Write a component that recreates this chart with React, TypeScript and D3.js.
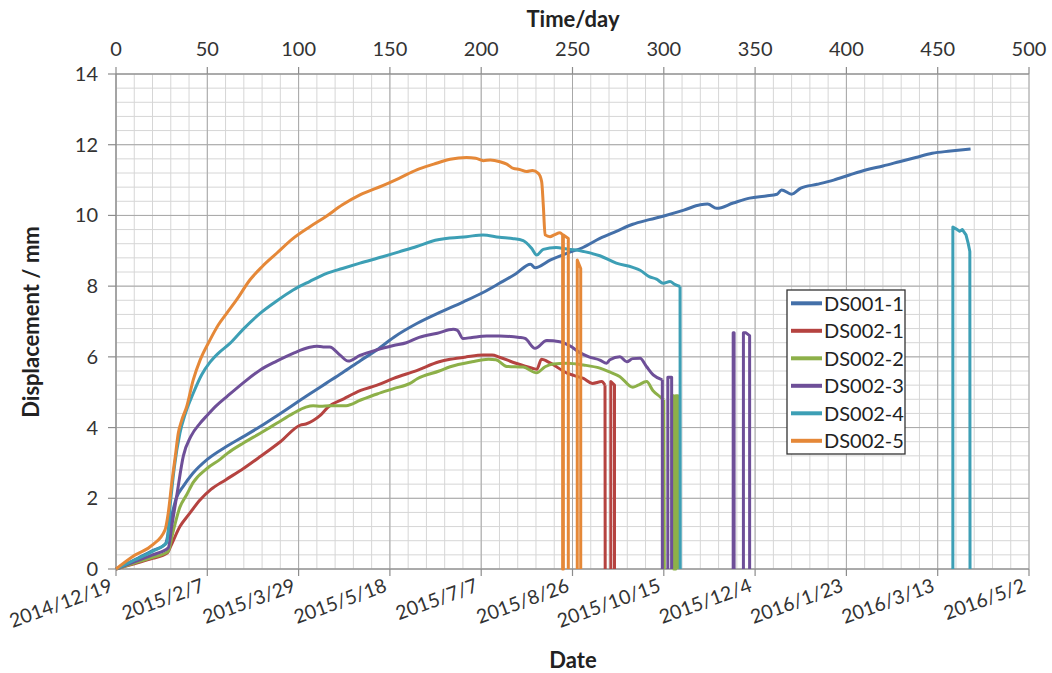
import React from "react";
import * as d3 from "d3";

type Pt = [number, number | null];

const seriesNames = ["DS001-1", "DS002-1", "DS002-2", "DS002-3", "DS002-4", "DS002-5"];
const seriesColors = ["#4470a9", "#b54340", "#8db049", "#6e4f98", "#3d9fb5", "#e58838"];

const ds001_1: Pt[] = [[0,0],[10,0.25],[20,0.52],[27,0.7],[30,1.4],[33,2.0],[37,2.35],[42,2.7],[50,3.1],[60,3.45],[70,3.75],[79,4.03],[88,4.33],[97,4.64],[106,4.95],[115,5.25],[124,5.55],[134,5.9],[143,6.2],[152,6.55],[165,6.95],[177,7.25],[190,7.55],[201,7.82],[210,8.08],[219,8.35],[227,8.62],[229.5,8.52],[238,8.74],[247,8.93],[256,9.1],[265,9.35],[274,9.55],[283,9.75],[292,9.88],[301,10.0],[311,10.15],[320,10.3],[324,10.32],[329,10.2],[338,10.35],[347,10.49],[356,10.55],[362,10.6],[364.5,10.72],[370,10.6],[375,10.77],[384,10.88],[393,11.0],[402,11.15],[411,11.29],[420,11.4],[429,11.52],[438,11.64],[447,11.76],[457,11.82],[468,11.88]];

const ds002_1: Pt[] = [[0,0],[10,0.15],[20,0.3],[28,0.45],[30,0.65],[35,1.2],[40,1.55],[46,1.95],[52,2.25],[60,2.52],[70,2.85],[79,3.18],[90,3.6],[101,4.07],[104,4.1],[108,4.2],[112,4.35],[116,4.57],[125,4.82],[134,5.05],[143,5.2],[152,5.39],[165,5.62],[177,5.86],[183,5.93],[192,6.0],[201,6.05],[206,6.05],[210,5.99],[219,5.82],[228,5.68],[230.5,5.65],[233,5.93],[238,5.82],[247,5.54],[251,5.47],[256,5.39],[261,5.25],[266,5.3],[267.8,5.2],[267.9,0],[269,null],[271,0],[271,5.3],[273,5.2],[273,0]];

const ds002_2: Pt[] = [[0,0],[10,0.17],[20,0.33],[28.6,0.5],[31,1.0],[35,1.75],[38.7,2.1],[42.3,2.45],[50,2.85],[57,3.1],[61,3.27],[70,3.57],[79,3.84],[88,4.12],[97,4.4],[104,4.58],[108,4.62],[112,4.6],[117,4.62],[126,4.62],[134,4.78],[143,4.95],[152,5.1],[161,5.25],[165,5.38],[177,5.6],[183,5.72],[195,5.86],[204,5.93],[208,5.92],[214,5.73],[223,5.71],[230.4,5.55],[235,5.72],[239.5,5.8],[247,5.82],[256,5.77],[265,5.68],[270,5.58],[276,5.44],[283,5.14],[286,5.2],[290.6,5.3],[294,5.05],[298,4.87],[300,4.78],[300.3,0],[301,null],[304.5,0],[304.5,4.9],[305.5,4.9],[305.5,0],[306.5,0],[306.5,4.9],[307.8,4.9],[307.8,0]];

const ds002_3: Pt[] = [[0,0],[10,0.2],[20,0.4],[28.6,0.6],[30.5,1.2],[33.2,2.05],[36.9,3.2],[41,3.75],[46,4.12],[50,4.35],[55,4.62],[60.6,4.87],[70,5.28],[79,5.63],[88,5.88],[97,6.1],[106,6.27],[110,6.3],[113.5,6.28],[117,6.28],[122.7,6.05],[127.2,5.88],[133.6,6.04],[143,6.2],[152,6.32],[159,6.4],[166,6.55],[176,6.67],[184.7,6.78],[187,6.75],[190,6.52],[195,6.55],[203,6.59],[210,6.59],[221,6.55],[224,6.52],[229.5,6.24],[235.9,6.46],[243,6.43],[249,6.3],[254,6.12],[259,6.0],[265,5.91],[268.7,5.82],[270.5,5.92],[276,6.0],[279.7,5.86],[283,5.95],[287,5.96],[290.6,5.72],[294.2,5.49],[299.2,5.35],[299.2,0],[300,null],[302.2,0],[302.2,5.42],[304.3,5.42],[304.3,0],[305,null],[338,0],[338,6.68],[338.5,6.68],[338.5,0],[339,null],[343.6,0],[343.6,6.68],[345,6.68],[347,6.6],[347,0]];

const ds002_4: Pt[] = [[0,0],[10,0.25],[20,0.5],[27.8,0.75],[29.6,1.76],[32,2.9],[35,3.84],[38,4.4],[42.3,4.97],[47,5.5],[51.5,5.85],[56,6.1],[62.4,6.38],[70,6.8],[78.9,7.23],[88,7.58],[97,7.89],[106,8.13],[115.4,8.36],[124,8.5],[133.6,8.65],[146,8.83],[155,8.97],[164.7,9.12],[173,9.27],[183,9.36],[192,9.4],[201,9.45],[210,9.38],[217,9.35],[223,9.29],[227.6,9.07],[230.4,8.88],[234,9.04],[241,9.09],[247,9.05],[252,9.02],[256,8.98],[265,8.86],[274,8.65],[283,8.53],[287,8.45],[292,8.27],[296,8.2],[299.7,8.08],[303.4,8.13],[306,8.05],[308.9,7.99],[309,0],[310,null],[458.3,0],[458.3,9.67],[460,9.62],[462,9.55],[463.5,9.6],[465.5,9.45],[466.7,9.21],[467.6,8.98],[467.7,0]];

const ds002_5: Pt[] = [[0,0],[10,0.38],[20,0.68],[26.8,1.1],[28.6,1.58],[30.5,2.42],[32.5,3.2],[34.1,3.84],[36,4.21],[38.7,4.59],[42.3,5.35],[46,5.9],[51.5,6.48],[56,6.9],[60.6,7.23],[66,7.61],[73.4,8.18],[80,8.55],[88,8.93],[97,9.35],[106.2,9.68],[115,9.97],[124,10.3],[133.6,10.58],[146.4,10.85],[155,11.05],[164.7,11.29],[174,11.45],[183,11.59],[192,11.64],[197,11.62],[201.2,11.55],[205,11.57],[210.3,11.52],[214,11.45],[217.6,11.33],[221,11.3],[224.9,11.24],[228,11.27],[231.3,11.19],[233.1,10.96],[234,10.3],[235,9.45],[237.7,9.4],[240,9.45],[243.2,9.51],[244.6,9.45],[244.6,0],[245,0],[245,9.45],[247.7,9.35],[247.7,0],[248,null],[252.6,0],[252.6,8.74],[254.5,8.5],[254.5,0]];

const allSeries: Pt[][] = [ds001_1, ds002_1, ds002_2, ds002_3, ds002_4, ds002_5];

const topTickValues = [0, 50, 100, 150, 200, 250, 300, 350, 400, 450, 500];
const dateTickLabels = ["2014/12/19", "2015/2/7", "2015/3/29", "2015/5/18", "2015/7/7", "2015/8/26", "2015/10/15", "2015/12/4", "2016/1/23", "2016/3/13", "2016/5/2"];
const yTickValues = [0, 2, 4, 6, 8, 10, 12, 14];

const FONT = "Lato, 'Open Sans', sans-serif";

export default function App() {
  const W = 1052, H = 673;
  const x = d3.scaleLinear().domain([0, 500]).range([116, 1029]);
  const y = d3.scaleLinear().domain([0, 14]).range([569, 74]);
  const minorX = d3.range(0, 501, 10);
  const minorY = d3.range(0, 36).map((i) => +(i * 0.4).toFixed(2));
  const smooth = d3
    .line<Pt>()
    .curve(d3.curveMonotoneX)
    .x((d) => x(d[0]))
    .y((d) => y(d[1] as number));
  const straight = d3
    .line<Pt>()
    .defined((d) => d[1] !== null)
    .x((d) => x(d[0]))
    .y((d) => y(d[1] as number));

  const pathFor = (s: Pt[]) => {
    const k = s.findIndex((d, i) => i > 0 && (d[1] === null || d[1] === 0));
    if (k < 0) return smooth(s) || "";
    return (smooth(s.slice(0, k)) || "") + (straight(s.slice(k - 1)) || "");
  };

  return (
    <svg width={W} height={H} style={{ position: "absolute", left: 0, top: 0, background: "#fff" }} fontFamily={FONT}>
      <rect x={0} y={0} width={W} height={H} fill="#fff" />
      {minorX.map((v) => (
        <line key={"mx" + v} x1={x(v)} x2={x(v)} y1={y(14)} y2={y(0)} stroke="#d6d6d6" strokeWidth={1} />
      ))}
      {minorY.map((v) => (
        <line key={"my" + v} x1={x(0)} x2={x(500)} y1={y(v)} y2={y(v)} stroke="#d6d6d6" strokeWidth={1} />
      ))}
      {topTickValues.map((v) => (
        <line key={"Mx" + v} x1={x(v)} x2={x(v)} y1={y(14)} y2={y(0)} stroke="#a8a8a8" strokeWidth={1} />
      ))}
      {yTickValues.map((v) => (
        <line key={"My" + v} x1={x(0)} x2={x(500)} y1={y(v)} y2={y(v)} stroke="#a8a8a8" strokeWidth={1} />
      ))}
      <line x1={x(0)} x2={x(0)} y1={y(14)} y2={y(0)} stroke="#8c8c8c" strokeWidth={1.2} />
      <line x1={x(0)} x2={x(500)} y1={y(0)} y2={y(0)} stroke="#8c8c8c" strokeWidth={1.2} />
      <line x1={x(0)} x2={x(500)} y1={y(14)} y2={y(14)} stroke="#8c8c8c" strokeWidth={1.2} />
      {yTickValues.map((v) => (
        <line key={"yt" + v} x1={x(0) - 8} x2={x(0)} y1={y(v)} y2={y(v)} stroke="#8c8c8c" strokeWidth={1.2} />
      ))}
      {topTickValues.map((v) => (
        <line key={"tt" + v} x1={x(v)} x2={x(v)} y1={y(14) - 7} y2={y(14)} stroke="#8c8c8c" strokeWidth={1.2} />
      ))}
      {topTickValues.map((v) => (
        <line key={"bt" + v} x1={x(v)} x2={x(v)} y1={y(0)} y2={y(0) + 7} stroke="#8c8c8c" strokeWidth={1.2} />
      ))}
      {allSeries.map((s, i) => (
        <path key={seriesNames[i]} d={pathFor(s)} fill="none" stroke={seriesColors[i]} strokeWidth={3} strokeLinejoin="round" strokeLinecap="butt" />
      ))}
      {yTickValues.map((v) => (
        <text key={"yl" + v} x={98} y={y(v) + 7} textAnchor="end" fontSize={20} fill="#333">
          {v}
        </text>
      ))}
      {topTickValues.map((v) => (
        <text key={"tl" + v} x={x(v)} y={56} textAnchor="middle" fontSize={20} fill="#333">
          {v}
        </text>
      ))}
      {topTickValues.map((v, i) => (
        <text
          key={"dl" + v}
          transform={`translate(${x(v) - 2},${591}) rotate(-20)`}
          textAnchor="end"
          fontSize={19.5}
          fill="#333"
        >
          {dateTickLabels[i]}
        </text>
      ))}
      <text x={573} y={27} textAnchor="middle" fontSize={22} fontWeight="bold" fill="#222">
        Time/day
      </text>
      <text x={573} y={668} textAnchor="middle" fontSize={22} fontWeight="bold" fill="#222">
        Date
      </text>
      <text transform={`translate(39,${322}) rotate(-90)`} textAnchor="middle" fontSize={22} fontWeight="bold" fill="#222">
        Displacement / mm
      </text>
      <rect x={787} y={290} width={118} height={164} fill="#fff" stroke="#333" strokeWidth={1.3} />
      {seriesNames.map((n, i) => {
        const ly = 303.3 + i * 27.5;
        return (
          <g key={"lg" + n}>
            <line x1={791} x2={822} y1={ly} y2={ly} stroke={seriesColors[i]} strokeWidth={4} />
            <text x={824} y={ly + 7.5} fontSize={20} fill="#222">
              {n}
            </text>
          </g>
        );
      })}
    </svg>
  );
}
